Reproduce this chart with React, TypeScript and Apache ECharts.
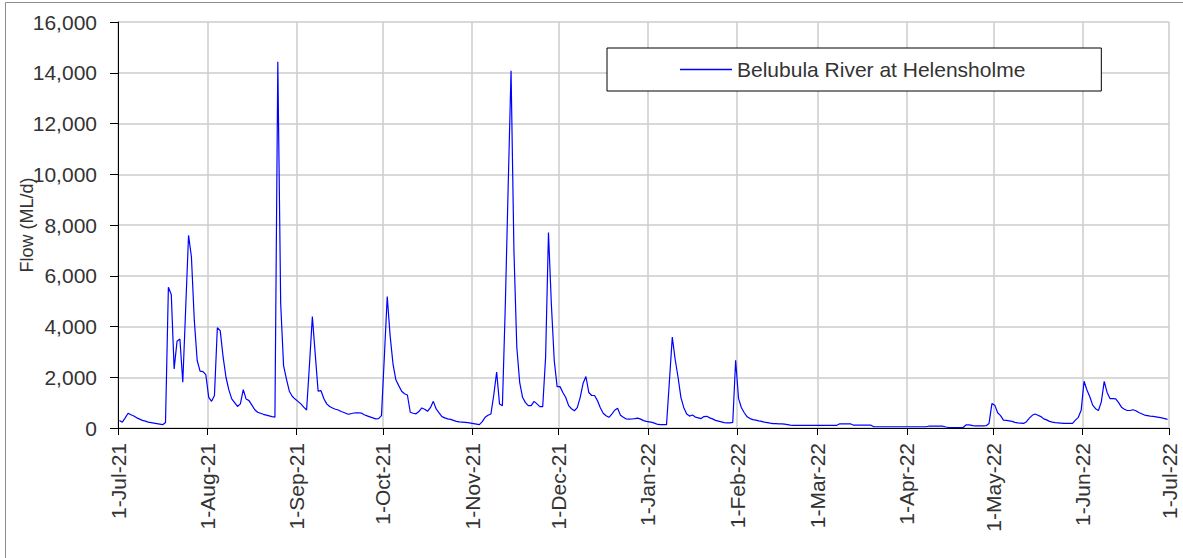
import React, { useEffect, useRef } from "react";
import * as echarts from "echarts";

// Daily flow (ML/d), Belubula River at Helensholme, 1-Jul-21 .. 30-Jun-22
const jul21 = [300, 230, 400, 580, 520, 470, 400, 350, 300, 270, 230, 210, 190, 170, 150, 130, 220, 5550, 5260, 2330, 3420, 3510, 1800, 4700, 7590, 6740, 4240, 2660, 2240, 2220, 2100];
const aug21 = [1210, 1050, 1280, 3950, 3840, 2800, 2000, 1500, 1150, 1000, 850, 950, 1510, 1140, 1080, 900, 720, 620, 580, 540, 510, 480, 450, 430, 14430, 4900, 2460, 1930, 1450, 1250, 1140];
const sep21 = [1050, 950, 820, 710, 2500, 4390, 2900, 1450, 1470, 1150, 950, 850, 790, 740, 710, 650, 610, 560, 550, 580, 600, 600, 590, 520, 480, 440, 400, 360, 370, 490];
const oct21 = [2800, 5180, 3640, 2530, 1900, 1670, 1450, 1350, 1300, 620, 580, 560, 650, 790, 740, 660, 800, 1050, 750, 600, 450, 400, 360, 340, 300, 260, 240, 230, 220, 210, 190];
const nov21 = [170, 150, 130, 250, 420, 500, 550, 1300, 2200, 950, 880, 4800, 9500, 14080, 7000, 3180, 1800, 1210, 1000, 880, 880, 1050, 950, 840, 840, 2790, 7700, 4890, 2660, 1630];
const dec21 = [1630, 1400, 1200, 880, 760, 680, 800, 1200, 1750, 2030, 1400, 1280, 1280, 1080, 800, 580, 480, 420, 550, 700, 780, 500, 420, 355, 350, 355, 370, 390, 350, 290, 260];
const jan22 = [240, 220, 180, 140, 130, 130, 130, 1850, 3580, 2700, 2000, 1200, 800, 550, 470, 510, 430, 400, 370, 450, 460, 400, 360, 300, 270, 240, 210, 205, 200, 220, 2670];
const feb22 = [1170, 800, 600, 440, 370, 330, 310, 280, 260, 230, 210, 190, 175, 170, 165, 160, 150, 130, 110, 100, 100, 100, 100, 100, 100, 100, 100, 100];
const mar22 = [100, 100, 100, 100, 100, 100, 100, 160, 160, 160, 160, 160, 110, 110, 110, 110, 110, 110, 110, 50, 50, 50, 50, 50, 50, 50, 50, 50, 50, 50, 50];
const apr22 = [50, 50, 50, 50, 50, 50, 50, 70, 70, 70, 70, 70, 70, 40, 20, 20, 20, 20, 20, 20, 120, 120, 100, 80, 80, 80, 80, 90, 180, 960];
const may22 = [900, 600, 490, 310, 300, 280, 260, 220, 200, 190, 180, 250, 390, 500, 550, 500, 450, 360, 320, 260, 230, 210, 200, 190, 180, 180, 180, 180, 310, 420, 700];
const jun22 = [1840, 1500, 1230, 900, 760, 690, 1030, 1840, 1400, 1160, 1160, 1150, 1000, 820, 740, 690, 690, 720, 680, 610, 560, 510, 490, 470, 460, 440, 420, 400, 370, 340];

const flow = [...jul21, ...aug21, ...sep21, ...oct21, ...nov21, ...dec21, ...jan22, ...feb22, ...mar22, ...apr22, ...may22, ...jun22];

// Tick positions (day index from 1-Jul-21) and their labels
const monthStarts = [0, 31, 62, 92, 123, 153, 184, 215, 243, 274, 304, 335, 365];
const monthLabels = ["1-Jul-21", "1-Aug-21", "1-Sep-21", "1-Oct-21", "1-Nov-21", "1-Dec-21", "1-Jan-22", "1-Feb-22", "1-Mar-22", "1-Apr-22", "1-May-22", "1-Jun-22", "1-Jul-22"];

const seriesName = "Belubula River at Helensholme";
const yAxisTitle = "Flow (ML/d)";

const FONT = "'Liberation Sans', Arial, sans-serif";
const TEXT = "#333333";

export default function App() {
  const ref = useRef<HTMLDivElement>(null);
  useEffect(() => {
    if (!ref.current) return;
    const chart = echarts.init(ref.current, undefined, { renderer: "svg" });
    chart.setOption({
      animation: false,
      backgroundColor: "#ffffff",
      textStyle: { fontFamily: FONT },
      grid: { left: 118, top: 22, width: 1051, height: 406, containLabel: false, outerBoundsMode: "none" },
      graphic: [
        {
          type: "rect",
          z: -10,
          silent: true,
          shape: { x: 5.5, y: 2.5, width: 1300, height: 700 },
          style: { fill: "none", stroke: "#8c8c8c", lineWidth: 1 },
        },
      ],
      legend: {
        show: true,
        left: 607,
        top: 48,
        orient: "horizontal",
        padding: [10, 76, 10, 73],
        icon: "rect",
        itemWidth: 52,
        itemHeight: 1.4,
        backgroundColor: "#ffffff",
        borderColor: "#000000",
        borderWidth: 1,
        borderRadius: 0,
        textStyle: { fontFamily: FONT, fontSize: 21, color: TEXT, lineHeight: 23 },
        data: [seriesName],
      },
      xAxis: {
        type: "value",
        min: 0,
        max: 365,
        axisLine: { show: true, onZero: false, lineStyle: { color: "#000000", width: 1 } },
        axisTick: { show: true, customValues: monthStarts, length: 7, lineStyle: { color: "#000000" } },
        axisLabel: {
          customValues: monthStarts,
          rotate: 90,
          margin: 15,
          fontSize: 21,
          fontFamily: FONT,
          color: TEXT,
          formatter: (v: number) => {
            const i = monthStarts.indexOf(Math.round(v));
            return i >= 0 ? monthLabels[i] : "";
          },
        },
        splitLine: { show: true, customValues: monthStarts, lineStyle: { color: "#cccccc", width: 1.5 } },
      },
      yAxis: {
        type: "value",
        min: 0,
        max: 16000,
        interval: 2000,
        name: yAxisTitle,
        nameLocation: "middle",
        nameGap: 82,
        nameMoveOverlap: false,
        nameTextStyle: { fontSize: 18, fontFamily: FONT, color: TEXT },
        axisLine: { show: true, lineStyle: { color: "#000000", width: 1 } },
        axisTick: { show: true, length: 8, lineStyle: { color: "#000000" } },
        axisLabel: {
          margin: 21,
          fontSize: 21,
          fontFamily: FONT,
          color: TEXT,
          formatter: (v: number) => v.toLocaleString("en-US"),
        },
        splitLine: { show: true, lineStyle: { color: "#cccccc", width: 1.5 } },
      },
      series: [
        {
          name: seriesName,
          type: "line",
          symbol: "none",
          showSymbol: false,
          data: flow.map((v, i) => [i + 0.5, v]),
          lineStyle: { color: "#0000ff", width: 1.2 },
          itemStyle: { color: "#0000ff" },
        },
      ],
    });
    return () => chart.dispose();
  }, []);
  return (
    <div
      ref={ref}
      style={{ position: "absolute", left: 0, top: 0, width: 1183, height: 558 }}
    />
  );
}
